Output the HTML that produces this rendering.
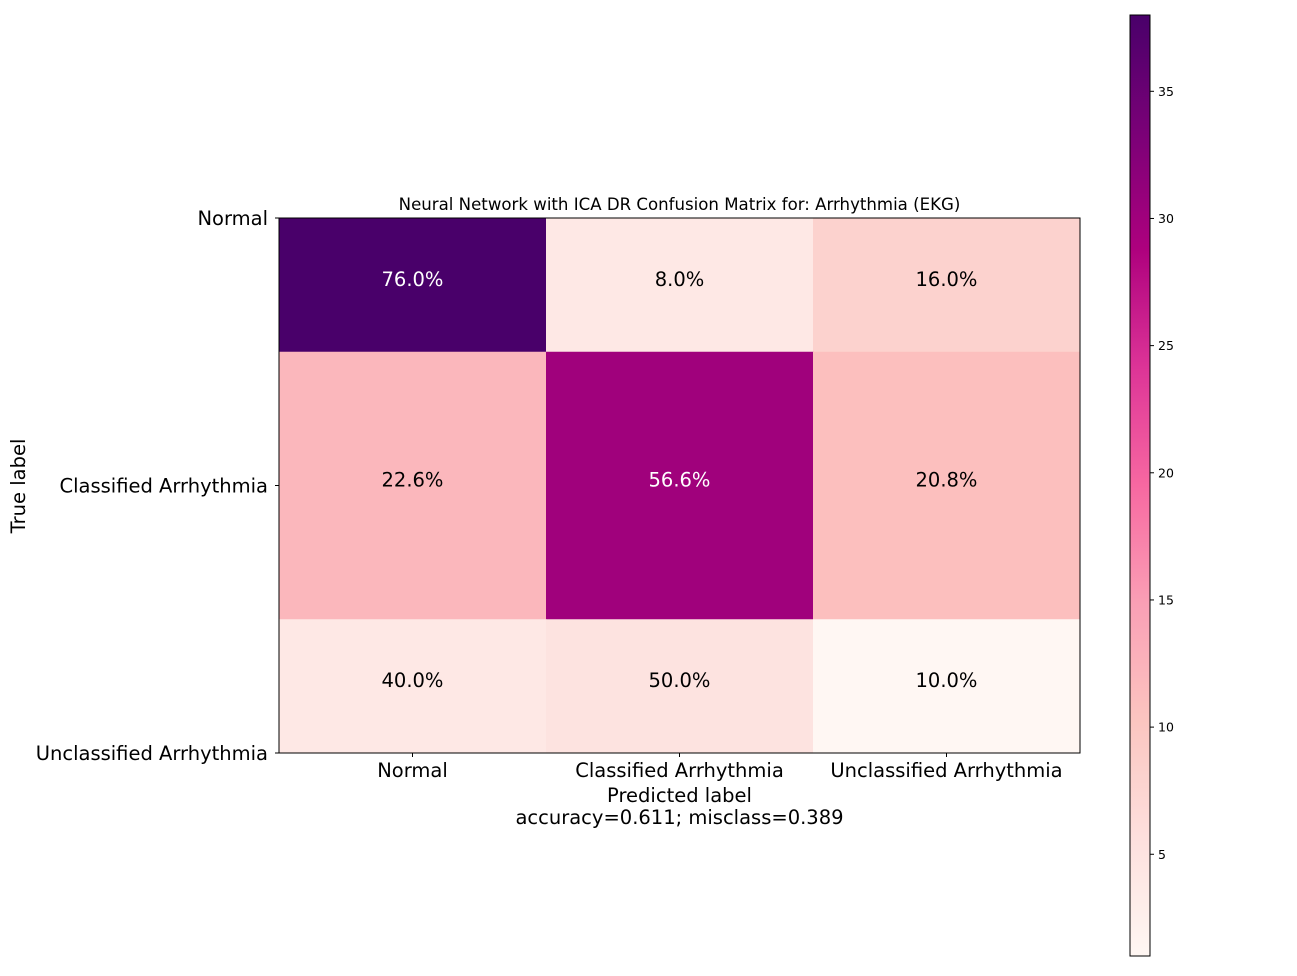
<!DOCTYPE html>
<html><head><meta charset="utf-8"><style>
body{margin:0;background:#fff;}
svg text{font-family:"DejaVu Sans","Liberation Sans",sans-serif;}
</style></head><body>
<svg id="chart" width="1297" height="971" xmlns="http://www.w3.org/2000/svg">
<defs>
<linearGradient id="cbgrad" x1="0" y1="1" x2="0" y2="0">
<stop offset="0" stop-color="#fff7f3"/><stop offset="0.125" stop-color="#fde0dd"/><stop offset="0.25" stop-color="#fcc5c0"/><stop offset="0.375" stop-color="#fa9fb5"/><stop offset="0.5" stop-color="#f768a1"/><stop offset="0.625" stop-color="#dd3497"/><stop offset="0.75" stop-color="#ae017e"/><stop offset="0.875" stop-color="#7a0177"/><stop offset="1" stop-color="#49006a"/>
</linearGradient>
</defs>
<g id="cells"></g>
<rect x="279" y="218" width="801" height="535" fill="none" stroke="#000" stroke-width="1"/>
<text x="679.5" y="210" font-size="16.6" text-anchor="middle">Neural Network with ICA DR Confusion Matrix for: Arrhythmia (EKG)</text>
<g id="axes"></g>
<text x="679.5" y="802" font-size="19.5" text-anchor="middle">Predicted label</text>
<text x="679.5" y="824" font-size="19.5" text-anchor="middle">accuracy=0.611; misclass=0.389</text>
<text x="0" y="0" font-size="19.5" text-anchor="middle" transform="translate(25,486) rotate(-90)">True label</text>
<rect x="1130" y="15" width="20" height="941" fill="url(#cbgrad)" stroke="#000" stroke-width="1"/>
<g id="cbticks"></g>
</svg>
<script>
const classes = ["Normal","Classified Arrhythmia","Unclassified Arrhythmia"];
const counts = [[38,4,8],[12,30,11],[4,5,1]];
const cbTicks = [5,10,15,20,25,30,35];
const vmin = 1, vmax = 38;

const NS="http://www.w3.org/2000/svg";
const stops=["#fff7f3","#fde0dd","#fcc5c0","#fa9fb5","#f768a1","#dd3497","#ae017e","#7a0177","#49006a"];
function hex(h){return [1,3,5].map(i=>parseInt(h.substr(i,2),16));}
function cmap(v){let t=(v-vmin)/(vmax-vmin);t=Math.max(0,Math.min(1,t))*(stops.length-1);const i=Math.min(Math.floor(t),stops.length-2),f=t-i;const a=hex(stops[i]),b=hex(stops[i+1]);return "rgb("+a.map((c,k)=>Math.round(c+(b[k]-c)*f)).join(",")+")";}
const x0=279,x1=1080,y0=218,y1=753,n=classes.length;
const cw=(x1-x0)/n;
function ys(r){return y0+(y1-y0)*r/(n-1);}
function clampY(y){return Math.max(y0,Math.min(y1,y));}
function el(tag,attrs,parent){const e=document.createElementNS(NS,tag);for(const k in attrs)e.setAttribute(k,attrs[k]);parent.appendChild(e);return e;}
const cells=document.getElementById("cells"),axes=document.getElementById("axes"),cbt=document.getElementById("cbticks");
const thresh=vmax/2;
for(let r=0;r<n;r++){const tot=counts[r].reduce((a,b)=>a+b,0);
 for(let c=0;c<n;c++){const v=counts[r][c];
  const top=clampY(ys(r-0.5)),bot=clampY(ys(r+0.5));
  const rc=el("rect",{x:x0+c*cw,y:top,width:cw+0.5,height:bot-top+0.5,fill:cmap(v)},cells);
  
  
  const cy=(r===0?ys(0.25):r===n-1?ys(n-1.25):ys(r));
  const t=el("text",{x:x0+(c+0.5)*cw,y:cy+1,"font-size":"19.5","text-anchor":"middle",fill:v>thresh?"#fff":"#000"},cells);
  t.textContent=(100*v/tot).toFixed(1)+"%";
  
  
 }}
classes.forEach((name,i)=>{
 const xt=el("text",{x:x0+(i+0.5)*cw,y:777,"font-size":"19.5","text-anchor":"middle"},axes);xt.textContent=name;
 
 
 el("line",{x1:x0+(i+0.5)*cw,x2:x0+(i+0.5)*cw,y1:y1,y2:y1+4,stroke:"#000"},axes);
 const yt=el("text",{x:268,y:ys(i)+7,"font-size":"19.5","text-anchor":"end"},axes);yt.textContent=name;
 
 
 el("line",{x1:x0-4,x2:x0,y1:ys(i),y2:ys(i),stroke:"#000"},axes);
});
const cbTop=15,cbBot=956;
cbTicks.forEach(v=>{const y=cbBot-(v-vmin)/(vmax-vmin)*(cbBot-cbTop);
 el("line",{x1:1150,x2:1154,y1:y,y2:y,stroke:"#000"},cbt);
 const t=el("text",{x:1158,y:y+4.5,"font-size":"12.5"},cbt);t.textContent=v;
 
 
});
</script>
</body></html>
